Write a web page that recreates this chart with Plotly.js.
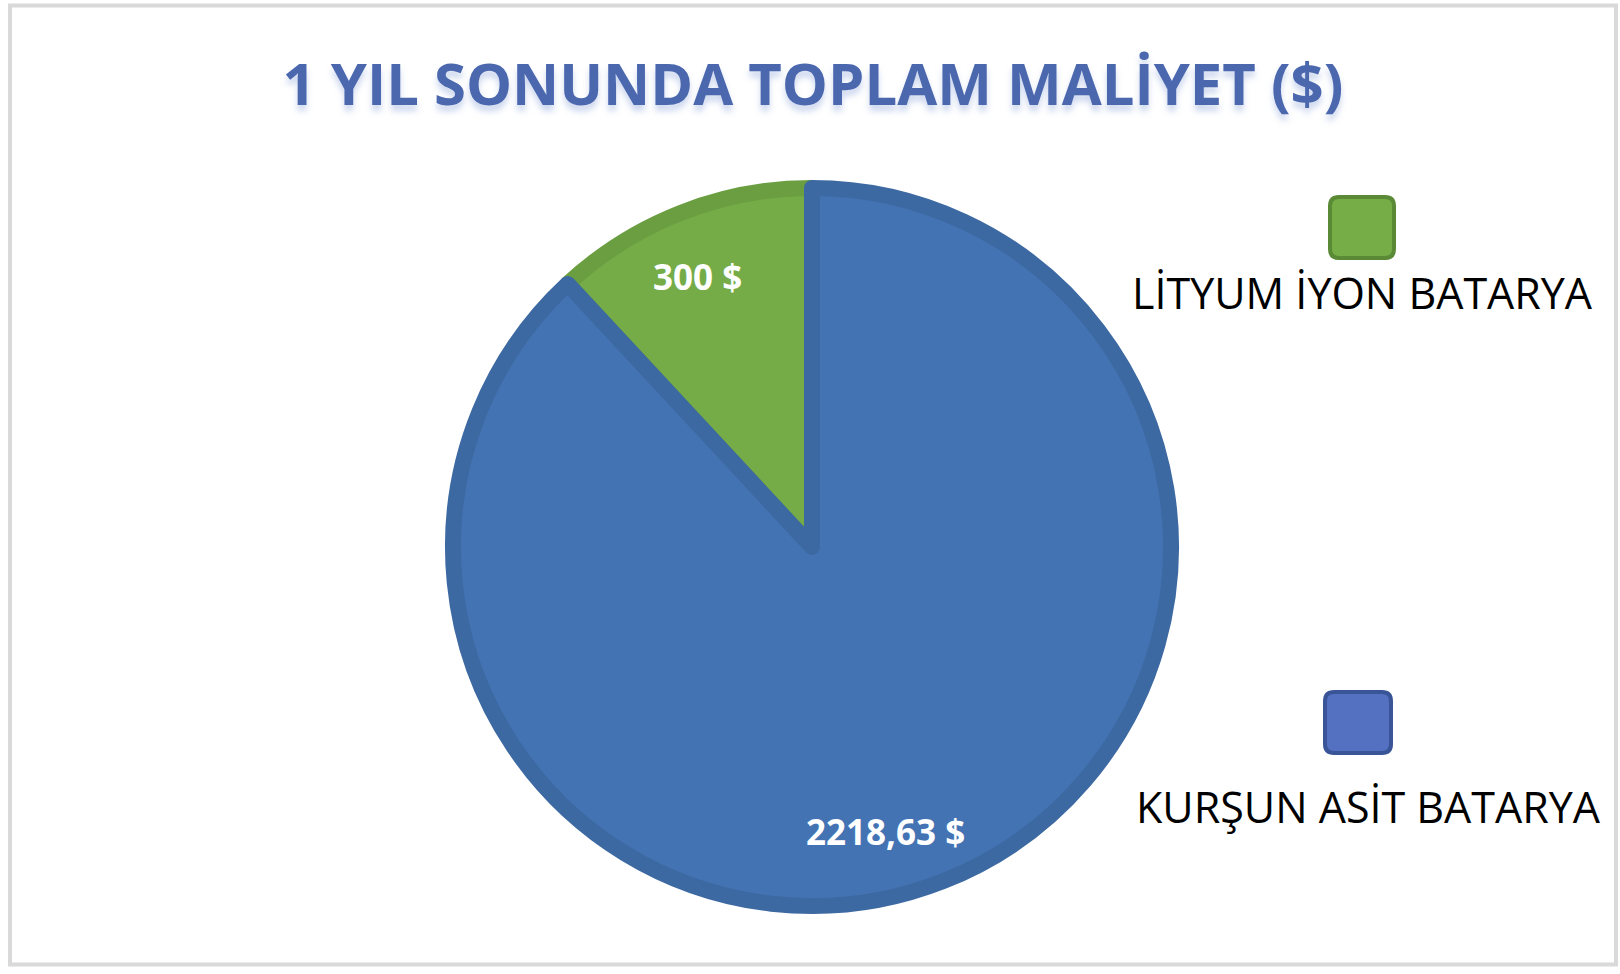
<!DOCTYPE html>
<html>
<head>
<meta charset="utf-8">
<script src="https://cdn.plot.ly/plotly-3.0.1.min.js"></script>
<style>html,body{margin:0;padding:0;background:#fff;}#chart{width:1620px;height:974px;}</style>
</head>
<body>
<div id="chart"></div>
<script>
// ---- data ----
const titleText = '1 YIL SONUNDA TOPLAM MALİYET ($)';
const categories = ['LİTYUM İYON BATARYA', 'KURŞUN ASİT BATARYA'];
const costs = [300, 2218.63];
const costLabels = ['300 $', '2218,63 $'];
const sliceColors = ['#75AC48', '#4473B4'];
const sliceEdgeColors = ['#6A9E41', '#3D69A2'];
const swatchColors = ['#76AD47', '#5471C1'];
const swatchEdgeColors = ['#5A8A35', '#3A5597'];

// ---- layout helpers ----
const W = 1620, H = 974;
const px = v => v / W;
const py = v => 1 - v / H;
function roundedRect(x0, y0, x1, y1, r) {
  const p = (x, y) => px(x) + ',' + py(y);
  return 'M' + p(x0 + r, y0) + ' L' + p(x1 - r, y0) + ' Q' + p(x1, y0) + ' ' + p(x1, y0 + r) +
    ' L' + p(x1, y1 - r) + ' Q' + p(x1, y1) + ' ' + p(x1 - r, y1) +
    ' L' + p(x0 + r, y1) + ' Q' + p(x0, y1) + ' ' + p(x0, y1 - r) +
    ' L' + p(x0, y0 + r) + ' Q' + p(x0, y0) + ' ' + p(x0 + r, y0) + ' Z';
}

const cx = 812, cy = 547, outerR = 367, edgeW = 16;
const r = outerR - edgeW / 2;
const total = costs.reduce((a, b) => a + b, 0);
const firstSweep = 360 * costs[0] / total;

const trace = {
  type: 'pie',
  labels: categories,
  values: costs,
  textinfo: 'none',
  sort: false,
  direction: 'counterclockwise',
  rotation: -firstSweep,
  hole: 0,
  marker: {colors: sliceColors, line: {color: sliceEdgeColors, width: edgeW}},
  domain: {x: [px(cx - r), px(cx + r)], y: [1 - (cy + r) / H, 1 - (cy - r) / H]},
  showlegend: false,
  hoverinfo: 'label+value'
};

const legendPos = [
  {sw: [1328, 195, 1396, 260], tx: 1362, ty: 292},
  {sw: [1323, 690, 1393, 755], tx: 1368, ty: 806}
];
// value label placement (Excel "best fit"): radial fraction and angular nudge (deg)
const labelRadius = 0.8;
const labelNudge = [1.5, -7];

const shapes = [{
  type: 'rect', xref: 'paper', yref: 'paper',
  x0: px(10), x1: px(1616), y0: py(964.5), y1: py(5.5),
  line: {color: '#D9D9D9', width: 4}, fillcolor: 'rgba(0,0,0,0)', layer: 'below'
}];
const annotations = [];
let startDeg = 0; // measured counterclockwise from 12 o'clock
categories.forEach((c, i) => {
  const s = legendPos[i].sw;
  shapes.push({
    type: 'path', xref: 'paper', yref: 'paper',
    path: roundedRect(s[0] + 2, s[1] + 2, s[2] - 2, s[3] - 2, 9),
    fillcolor: swatchColors[i], line: {color: swatchEdgeColors[i], width: 4}
  });
  annotations.push({
    xref: 'paper', yref: 'paper', x: px(legendPos[i].tx), y: py(legendPos[i].ty),
    xanchor: 'center', yanchor: 'middle', showarrow: false, text: c,
    font: {family: 'Open Sans, Lato, sans-serif', size: 43, color: '#000000'}
  });
  const sweep = 360 * costs[i] / total;
  const mid = (startDeg + sweep / 2 + labelNudge[i]) * Math.PI / 180;
  startDeg += sweep;
  const lx = cx - outerR * labelRadius * Math.sin(mid);
  const ly = cy - outerR * labelRadius * Math.cos(mid);
  annotations.push({
    xref: 'paper', yref: 'paper', x: px(lx), y: py(ly),
    xanchor: 'center', yanchor: 'middle', showarrow: false, text: costLabels[i],
    font: {family: 'Open Sans, Lato, sans-serif', size: 35, color: '#ffffff', weight: 'bold'}
  });
});

const layout = {
  width: W, height: H,
  margin: {l: 0, r: 0, t: 0, b: 0},
  paper_bgcolor: '#ffffff',
  title: {
    text: titleText,
    x: px(813), xanchor: 'center', y: py(85), yanchor: 'middle',
    font: {family: 'Open Sans, Lato, sans-serif', size: 58, color: '#4B68AF', weight: 'bold',
           shadow: '0px 6px 6px rgba(110,140,205,0.35)'}
  },
  shapes: shapes,
  annotations: annotations
};

Plotly.newPlot('chart', [trace], layout, {displayModeBar: false, staticPlot: true});
</script>
</body>
</html>
